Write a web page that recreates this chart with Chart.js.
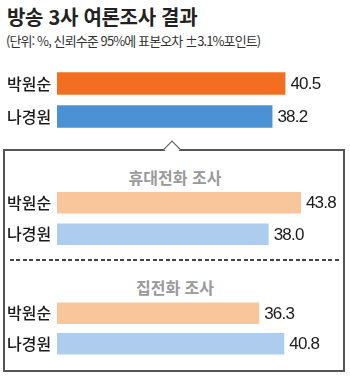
<!DOCTYPE html>
<html lang="ko">
<head>
<meta charset="utf-8">
<script src="https://cdn.jsdelivr.net/npm/chart.js@4/dist/chart.umd.min.js"></script>
<style>
  html, body { margin: 0; padding: 0; background: #fff; }
  body { width: 350px; height: 382px; position: relative; overflow: hidden;
         font-family: "Noto Sans CJK KR", "Noto Sans", sans-serif; }
  .title { position: absolute; left: 7px; top: 3px; font-size: 20px; font-weight: 700;
           color: #222; letter-spacing: -0.3px; line-height: 28px; white-space: nowrap; }
  .sub { position: absolute; left: 6px; top: 32px; font-size: 13px; color: #333;
         letter-spacing: -0.9px; line-height: 18px; white-space: nowrap; }
  .box { position: absolute; left: 3px; top: 149px; width: 338px; height: 219px;
         border: 2px solid #555; box-sizing: content-box; }
  .caret { position: absolute; left: 166px; top: 143px; width: 11px; height: 11px;
           background: #fff; border-left: 1.5px solid #555; border-top: 1.5px solid #555;
           transform: rotate(45deg); }
  .sec { position: absolute; left: 0; width: 350px; text-align: center; font-size: 16px;
         font-weight: 700; color: #9a9a9a; line-height: 22px; }
  .dash { position: absolute; left: 10px; top: 259px; width: 331px; height: 1.5px;
          background: repeating-linear-gradient(to right, #444 0 4px, transparent 4px 6.5px); }
  canvas { position: absolute; left: 0; }
</style>
</head>
<body>
<div class="title">방송 3사 여론조사 결과</div>
<div class="sub">(단위: %, 신뢰수준 95%에 표본오차 ±3.1%포인트)</div>
<div class="box"></div>
<div class="caret"></div>
<div class="sec" style="top:166px">휴대전화 조사</div>
<div class="dash"></div>
<div class="sec" style="top:276px">집전화 조사</div>
<canvas id="c1" width="350" height="66" style="top:67px"></canvas>
<canvas id="c2" width="350" height="63" style="top:187px"></canvas>
<canvas id="c3" width="350" height="61" style="top:298px"></canvas>
<script>
// Candidates and survey results (%)
const candidates = ["박원순", "나경원"];
const overallValues = [40.5, 38.2];   // 방송 3사 종합
const mobileValues = [43.8, 38.0];    // 휴대전화 조사
const landlineValues = [36.3, 40.8];  // 집전화 조사

const strongColors = ["#f26f22", "#4a92d4"];
const lightColors = ["#f9c59b", "#aecdee"];

// Draws each bar's value just past its end
const valueLabels = {
  id: "valueLabels",
  afterDatasetsDraw(chart) {
    const ctx = chart.ctx;
    const ds = chart.data.datasets[0];
    const meta = chart.getDatasetMeta(0);
    ctx.save();
    ctx.font = "17px 'Liberation Sans', Arial, sans-serif";
    ctx.fillStyle = "#1a1a1a";
    ctx.textAlign = "left";
    ctx.textBaseline = "middle";
    if ("letterSpacing" in ctx) ctx.letterSpacing = "-0.8px";
    meta.data.forEach((bar, i) => {
      ctx.fillText(ds.data[i].toFixed(1), bar.x + 5, bar.y + 1);
    });
    ctx.restore();
  }
};

function makeChart(id, values, colors, max, rightPad, barPct) {
  return new Chart(document.getElementById(id), {
    type: "bar",
    data: {
      labels: candidates,
      datasets: [{
        data: values,
        backgroundColor: colors,
        borderWidth: 0,
        categoryPercentage: 1,
        barPercentage: barPct
      }]
    },
    options: {
      indexAxis: "y",
      responsive: false,
      animation: false,
      layout: { padding: { left: 7, right: rightPad, top: 0, bottom: 0 } },
      plugins: { legend: { display: false }, tooltip: { enabled: false } },
      scales: {
        x: { display: false, min: 0, max: max },
        y: {
          grid: { display: false },
          border: { display: false },
          afterFit(scale) {
            scale.width = 50;
            scale.paddingTop = 0;
            scale.paddingBottom = 0;
          },
          ticks: {
            crossAlign: "far",
            padding: 0,
            color: "#1a1a1a",
            font: { family: "'Noto Sans CJK KR', sans-serif", size: 16, weight: "500" }
          }
        }
      }
    },
    plugins: [valueLabels]
  });
}

makeChart("c1", overallValues, strongColors, 50, 11, 0.68);
makeChart("c2", mobileValues, lightColors, 50, 14.5, 0.69);
makeChart("c3", landlineValues, lightColors, 50, 14.5, 0.7);
</script>
</body>
</html>
